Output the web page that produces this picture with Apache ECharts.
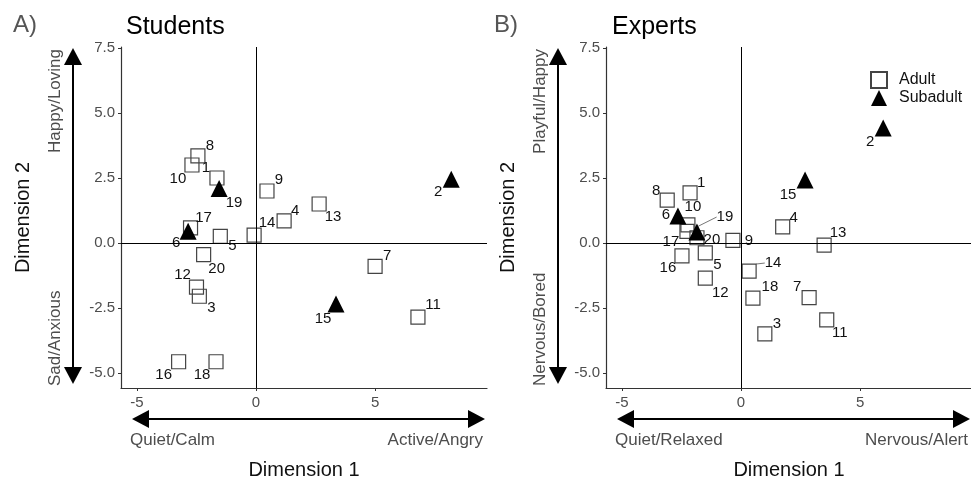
<!DOCTYPE html>
<html lang="en">
<head>
<meta charset="UTF-8">
<title>Students vs Experts</title>
<script src="https://cdn.jsdelivr.net/npm/echarts@6/dist/echarts.min.js"></script>
<style>
  html, body { margin: 0; padding: 0; background: #fff; }
  #chart { width: 971px; height: 479px; }
</style>
</head>
<body>
<div id="chart"></div>
<script>
// animal ids and age class
var animalIds = [1, 2, 3, 4, 5, 6, 7, 8, 9, 10, 11, 12, 13, 14, 15, 16, 17, 18, 19, 20];
var ageClass = ['Adult', 'Subadult', 'Adult', 'Adult', 'Adult', 'Subadult', 'Adult', 'Adult', 'Adult', 'Adult',
                'Adult', 'Adult', 'Adult', 'Adult', 'Subadult', 'Adult', 'Adult', 'Adult', 'Subadult', 'Adult'];

// A) students
var studentsDim1 = [-1.64, 8.2, -2.38, 1.18, -1.5, -2.85, 5.0, -2.44, 0.46, -2.69,
                    6.8, -2.5, 2.65, -0.08, 3.36, -3.25, -2.75, -1.68, -1.55, -2.2];
var studentsDim2 = [2.5, 2.45, -2.05, 0.85, 0.25, 0.45, -0.9, 3.35, 2.0, 3.0,
                    -2.85, -1.7, 1.5, 0.3, -2.35, -4.57, 0.58, -4.57, 2.1, -0.45];

// B) experts
var expertsDim1 = [-2.14, 5.97, 1.0, 1.75, -1.5, -2.65, 2.86, -3.1, -0.34, -2.23,
                   3.6, -1.5, 3.49, 0.34, 2.69, -2.48, -2.27, 0.5, -1.85, -1.85];
var expertsDim2 = [1.93, 4.42, -3.5, 0.62, -0.38, 1.04, -2.1, 1.65, 0.1, 0.7,
                   -2.96, -1.35, -0.08, -1.08, 2.42, -0.5, 0.45, -2.12, 0.42, 0.2];

var dim1Ticks = [-5, 0, 5];
var dim2Ticks = [-5, -2.5, 0, 2.5, 5, 7.5];

// label nudges (px) like ggrepel
var studentsNudge = [[-11,-10],[-13,13],[12,12],[11,-10],[12,9],[-12,12],[12,-11],[12,-10],[12,-11],[-14,14],
                     [15,-12],[-14,-12],[14,13],[13,-12],[-13,15],[-15,13],[13,-10],[-14,13],[15,14],[13,14]];
var expertsNudge = [[11,-10],[-13,14],[12,-10],[11,-9],[12,12],[-12,-1],[-12,-11],[-11,-9],[16,0],[5,-18],
                    [13,13],[15,15],[14,-12],[24,-8],[-17,15],[-14,12],[-16,11],[17,-11],[28,-15],[15,2]];
var expertsLeader = [14, 19];

var FONT = '"Liberation Sans", Arial, sans-serif';
var grids = [
  { left: 121, top: 47, width: 366, height: 341, outerBoundsMode: 'none' },
  { left: 606, top: 47, width: 366, height: 341, outerBoundsMode: 'none' }
];

// ids of the points in each series, in series order (for label nudges)
var seriesIds = [];
var seriesNudge = [];

function points(dim1, dim2, cls, leaders) {
  var out = [];
  for (var i = 0; i < animalIds.length; i++) {
    if (ageClass[i] !== cls) continue;
    var item = { value: [dim1[i], dim2[i], animalIds[i]] };
    if (leaders && leaders.indexOf(animalIds[i]) >= 0) {
      item.labelLine = { show: true };
    }
    out.push(item);
  }
  return out;
}

function labelLayout(p) {
  var id = seriesIds[p.seriesIndex][p.dataIndex];
  var n = seriesNudge[p.seriesIndex][id - 1];
  return { dx: n[0], dy: n[1] };
}

function makeSeries(g, dim1, dim2, nudge, leaders) {
  var lbl = {
    show: true, position: 'inside', color: '#111', fontSize: 15, fontFamily: FONT,
    formatter: function (p) { return p.value[2]; }
  };
  var res = [];
  ['Adult', 'Subadult'].forEach(function (cls) {
    var data = points(dim1, dim2, cls, leaders);
    seriesIds.push(data.map(function (d) { return d.value[2]; }));
    seriesNudge.push(nudge);
    var s = {
      name: cls, type: 'scatter', xAxisIndex: g, yAxisIndex: g,
      label: lbl, labelLayout: labelLayout,
      labelLine: { show: false, lineStyle: { color: '#777', width: 1 } },
      data: data
    };
    if (cls === 'Adult') {
      s.symbol = 'rect';
      s.symbolSize = 14;
      s.itemStyle = { color: 'rgba(255,255,255,0)', borderColor: '#444', borderWidth: 1.2, opacity: 1 };
      s.markLine = {
        silent: true, symbol: 'none', label: { show: false },
        lineStyle: { color: '#000', width: 1, type: 'solid' },
        data: [{ xAxis: 0 }, { yAxis: 0 }]
      };
    } else {
      s.symbol = 'triangle';
      s.symbolSize = 17;
      s.itemStyle = { color: '#000', opacity: 1 };
    }
    res.push(s);
  });
  return res;
}

function xAxisCfg(g) {
  return {
    gridIndex: g, type: 'value', min: -5.67, max: 9.7,
    name: 'Dimension 1', nameLocation: 'middle', nameGap: 72,
    nameTextStyle: { color: '#111', fontSize: 20, fontFamily: FONT },
    axisLine: { onZero: false, lineStyle: { color: '#333', width: 1.2 } },
    axisTick: { show: true, length: 3, customValues: dim1Ticks, lineStyle: { color: '#333' } },
    axisLabel: { customValues: dim1Ticks, color: '#4d4d4d', fontSize: 15, fontFamily: FONT, margin: 7 },
    splitLine: { show: false }
  };
}
function yAxisCfg(g) {
  return {
    gridIndex: g, type: 'value', min: -5.58, max: 7.54,
    name: 'Dimension 2', nameLocation: 'middle', nameGap: 88,
    nameTextStyle: { color: '#111', fontSize: 20, fontFamily: FONT },
    axisLine: { onZero: false, lineStyle: { color: '#333', width: 1.2 } },
    axisTick: { show: true, length: 3, customValues: dim2Ticks, lineStyle: { color: '#333' } },
    axisLabel: { customValues: dim2Ticks, color: '#4d4d4d', fontSize: 15, fontFamily: FONT, margin: 6,
                 formatter: function (v) { return v.toFixed(1); } },
    splitLine: { show: false }
  };
}

// arrows + pole labels drawn next to each grid
function arrowGraphics(gr, pole) {
  var els = [];
  var vx = gr.left - 48, top = gr.top + 1, bot = gr.top + gr.height - 4;
  var hy = gr.top + gr.height + 31, hl = gr.left + 11, hr = gr.left + 364;
  var hw = 9, hh = 17;
  var black = { fill: '#000' };
  els.push({ type: 'line', shape: { x1: vx, y1: top + hh - 2, x2: vx, y2: bot - hh + 2 }, style: { stroke: '#000', lineWidth: 2 } });
  els.push({ type: 'polygon', shape: { points: [[vx, top], [vx - hw, top + hh], [vx + hw, top + hh]] }, style: black });
  els.push({ type: 'polygon', shape: { points: [[vx, bot], [vx - hw, bot - hh], [vx + hw, bot - hh]] }, style: black });
  els.push({ type: 'line', shape: { x1: hl + hh - 2, y1: hy, x2: hr - hh + 2, y2: hy }, style: { stroke: '#000', lineWidth: 2 } });
  els.push({ type: 'polygon', shape: { points: [[hl, hy], [hl + hh, hy - hw], [hl + hh, hy + hw]] }, style: black });
  els.push({ type: 'polygon', shape: { points: [[hr, hy], [hr - hh, hy - hw], [hr - hh, hy + hw]] }, style: black });
  var ts = { fill: '#4d4d4d', fontSize: 17, fontFamily: FONT };
  els.push({ type: 'text', x: vx - 18, y: top + 1, rotation: Math.PI / 2,
             style: Object.assign({ text: pole[0], align: 'right', verticalAlign: 'middle' }, ts) });
  els.push({ type: 'text', x: vx - 18, y: gr.top + gr.height - 2, rotation: Math.PI / 2,
             style: Object.assign({ text: pole[1], align: 'left', verticalAlign: 'middle' }, ts) });
  els.push({ type: 'text', x: hl - 2, y: hy + 21,
             style: Object.assign({ text: pole[2], align: 'left', verticalAlign: 'middle' }, ts) });
  els.push({ type: 'text', x: hr - 2, y: hy + 21,
             style: Object.assign({ text: pole[3], align: 'right', verticalAlign: 'middle' }, ts) });
  return els;
}

var chart = echarts.init(document.getElementById('chart'));
var series = makeSeries(0, studentsDim1, studentsDim2, studentsNudge, null)
  .concat(makeSeries(1, expertsDim1, expertsDim2, expertsNudge, expertsLeader));
var option = {
  animation: false,
  backgroundColor: '#fff',
  textStyle: { fontFamily: FONT },
  title: [
    { text: 'A)', left: 8, top: 8, textStyle: { fontSize: 24, fontWeight: 'normal', color: '#555', fontFamily: FONT } },
    { text: 'Students', left: 121, top: 10, textStyle: { fontSize: 25, fontWeight: 'normal', color: '#000', fontFamily: FONT } },
    { text: 'B)', left: 489, top: 8, textStyle: { fontSize: 24, fontWeight: 'normal', color: '#555', fontFamily: FONT } },
    { text: 'Experts', left: 607, top: 10, textStyle: { fontSize: 25, fontWeight: 'normal', color: '#000', fontFamily: FONT } }
  ],
  legend: {
    data: ['Adult', 'Subadult'], orient: 'vertical', left: 865, top: 66,
    itemWidth: 16, itemHeight: 16, itemGap: 1,
    textStyle: { color: '#111', fontSize: 16, fontFamily: FONT, padding: [0, 0, 0, 7] }
  },
  grid: grids,
  xAxis: [xAxisCfg(0), xAxisCfg(1)],
  yAxis: [yAxisCfg(0), yAxisCfg(1)],
  graphic: arrowGraphics(grids[0], ['Happy/Loving', 'Sad/Anxious', 'Quiet/Calm', 'Active/Angry'])
    .concat(arrowGraphics(grids[1], ['Playful/Happy', 'Nervous/Bored', 'Quiet/Relaxed', 'Nervous/Alert'])),
  series: series
};
chart.setOption(option);
</script>
</body>
</html>
